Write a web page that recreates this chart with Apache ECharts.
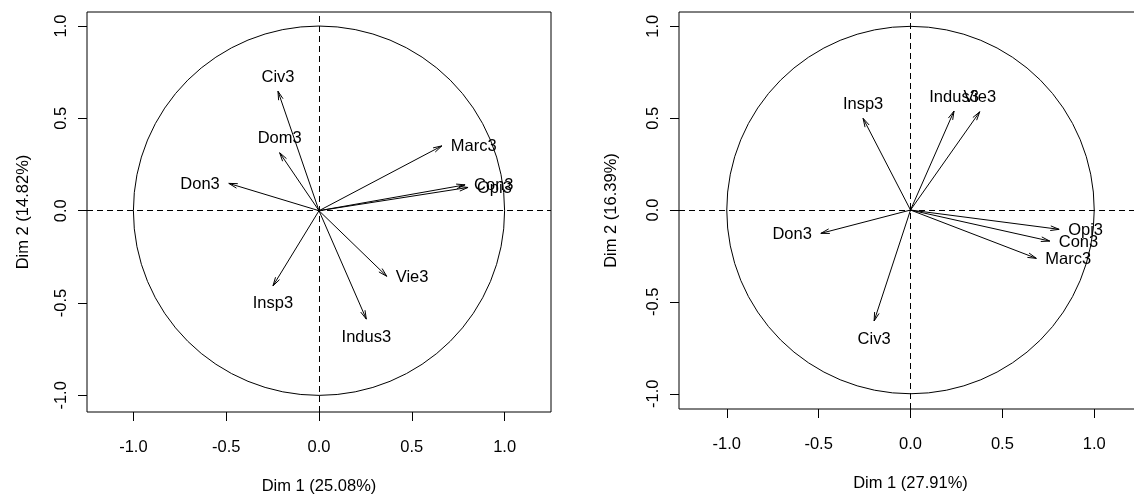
<!DOCTYPE html>
<html>
<head>
<meta charset="utf-8">
<title>Variables factor maps</title>
<script src="https://cdn.jsdelivr.net/npm/echarts@6/dist/echarts.min.js"></script>
<style>
    html, body { margin: 0; padding: 0; background: #fff; }
    #chart { width: 1134px; height: 495px; }
</style>
</head>
<body>
<div id="chart"></div>
<script>
// left panel
const leftNames = ['Civ3', 'Dom3', 'Don3', 'Marc3', 'Con3', 'Opi3', 'Vie3', 'Insp3', 'Indus3'];
const leftDim1 = [-0.221, -0.212, -0.486, 0.662, 0.787, 0.803, 0.365, -0.248, 0.255];
const leftDim2 = [0.647, 0.314, 0.148, 0.351, 0.140, 0.126, -0.355, -0.407, -0.587];
const leftAxisNames = ['Dim 1 (25.08%)', 'Dim 2 (14.82%)'];

// right panel
const rightNames = ['Insp3', 'Indus3', 'Vie3', 'Don3', 'Opi3', 'Con3', 'Marc3', 'Civ3'];
const rightDim1 = [-0.258, 0.237, 0.377, -0.488, 0.809, 0.758, 0.685, -0.198];
const rightDim2 = [0.499, 0.539, 0.535, -0.127, -0.105, -0.169, -0.263, -0.604];
const rightAxisNames = ['Dim 1 (27.91%)', 'Dim 2 (16.39%)'];

const tickValues = [-1, -0.5, 0, 0.5, 1];

const FONT = '"Liberation Sans", Arial, Helvetica, sans-serif';
const FS = 16.5;
const INK = '#000';

// arrow from origin + label placed like R's text(pos=...)
const makeArrowRenderer = (names) => (params, api) => {
    const o = api.coord([0, 0]);
    const vx = api.value(0), vy = api.value(1);
    const p = api.coord([vx, vy]);
    const ang = Math.atan2(p[1] - o[1], p[0] - o[0]);
    const head = 9, spread = 15 * Math.PI / 180;
    const w1 = [p[0] - head * Math.cos(ang - spread), p[1] - head * Math.sin(ang - spread)];
    const w2 = [p[0] - head * Math.cos(ang + spread), p[1] - head * Math.sin(ang + spread)];

    let tx = p[0], ty = p[1], align = 'center';
    if (Math.abs(vx) > Math.abs(vy)) {
        if (vx >= 0) { tx += 9; align = 'left'; } else { tx -= 9; align = 'right'; }
        ty += 1;
    } else {
        ty += vy >= 0 ? -14 : 18;
    }

    return {
        type: 'group',
        children: [
            {type: 'line', shape: {x1: o[0], y1: o[1], x2: p[0], y2: p[1]}, style: {stroke: INK, lineWidth: 1}},
            {type: 'polyline', shape: {points: [w1, p, w2]}, style: {stroke: INK, fill: null, lineWidth: 1}},
            {
                type: 'text', x: tx, y: ty,
                style: {text: names[params.dataIndex], fill: INK, font: FS + 'px ' + FONT, align, verticalAlign: 'middle'},
            },
        ],
    };
};

// unit correlation circle, drawn through the axes' scales
const renderCircle = (params, api) => {
    const c = api.coord([0, 0]);
    const r = api.size([1, 1]);
    const d = `M ${c[0] - r[0]} ${c[1]} A ${r[0]} ${r[1]} 0 1 0 ${c[0] + r[0]} ${c[1]} ` +
        `A ${r[0]} ${r[1]} 0 1 0 ${c[0] - r[0]} ${c[1]} Z`;
    return {type: 'path', shape: {pathData: d}, style: {stroke: INK, fill: null, lineWidth: 1}};
};

const fmt = (v) => v.toFixed(1);

const makeXAxis = (idx, name, range, nameGap) => ({
    gridIndex: idx,
    type: 'value',
    min: -range, max: range,
    name, nameLocation: 'middle', nameGap,
    nameTextStyle: {fontFamily: FONT, fontSize: FS, color: INK},
    axisLine: {show: false, onZero: false},
    axisTick: {show: true, length: 9, customValues: tickValues, lineStyle: {color: INK}},
    axisLabel: {customValues: tickValues, formatter: fmt, margin: 27, fontFamily: FONT, fontSize: FS, color: INK},
    splitLine: {show: false},
});

const makeYAxis = (idx, name, lo, hi, nameGap) => ({
    gridIndex: idx,
    type: 'value',
    min: lo, max: hi,
    name, nameLocation: 'middle', nameGap,
    nameTextStyle: {fontFamily: FONT, fontSize: FS, color: INK},
    axisLine: {show: false, onZero: false},
    axisTick: {show: true, length: 9, customValues: tickValues, lineStyle: {color: INK}},
    axisLabel: {customValues: tickValues, formatter: fmt, rotate: 90, margin: 17, fontFamily: FONT, fontSize: FS, color: INK},
    splitLine: {show: false},
});

const panelSeries = (idx, names, d1, d2) => [
    {
        type: 'line',
        xAxisIndex: idx, yAxisIndex: idx,
        data: [[0, 0]],
        showSymbol: false,
        silent: true,
        markLine: {
            silent: true,
            symbol: ['none', 'none'],
            label: {show: false},
            lineStyle: {color: INK, width: 1, type: [6, 4]},
            data: [{xAxis: 0}, {yAxis: 0}],
        },
    },
    {
        type: 'custom',
        xAxisIndex: idx, yAxisIndex: idx,
        silent: true,
        data: [[0, 0]],
        renderItem: renderCircle,
    },
    {
        type: 'custom',
        xAxisIndex: idx, yAxisIndex: idx,
        silent: true,
        data: d1.map((x, i) => [x, d2[i]]),
        encode: {x: 0, y: 1},
        renderItem: makeArrowRenderer(names),
    },
];

const gridStyle = {
    show: true, borderColor: INK, borderWidth: 1, backgroundColor: 'transparent',
    containLabel: false, outerBoundsMode: 'none',
};

const chart = echarts.init(document.getElementById('chart'), null, {renderer: 'canvas'});
chart.setOption({
    animation: false,
    backgroundColor: '#fff',
    grid: [
        {...gridStyle, left: 87, top: 12, width: 464, height: 400},
        {...gridStyle, left: 679, top: 12, width: 463, height: 397},
    ],
    xAxis: [
        makeXAxis(0, leftAxisNames[0], 1.25, 66),
        makeXAxis(1, rightAxisNames[0], 1.26, 66),
    ],
    yAxis: [
        makeYAxis(0, leftAxisNames[1], -1.09, 1.076, 55),
        makeYAxis(1, rightAxisNames[1], -1.083, 1.078, 59),
    ],
    series: [
        ...panelSeries(0, leftNames, leftDim1, leftDim2),
        ...panelSeries(1, rightNames, rightDim1, rightDim2),
    ],
});
</script>
</body>
</html>
